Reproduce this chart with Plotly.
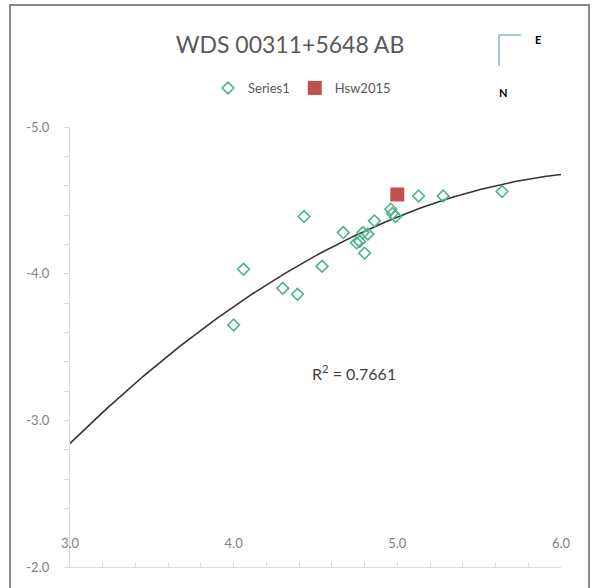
import numpy as np
import plotly.graph_objects as go

# ---- data ----
series1_x = [4.00, 4.06, 4.30, 4.39, 4.43, 4.54, 4.67, 4.75, 4.77, 4.79, 4.82, 4.80, 4.86, 4.96, 4.97, 4.99, 5.13, 5.28, 5.64]
series1_y = [-3.65, -4.03, -3.90, -3.86, -4.39, -4.05, -4.28, -4.21, -4.22, -4.28, -4.27, -4.14, -4.36, -4.44, -4.41, -4.39, -4.53, -4.53, -4.56]
hsw_x = [5.00]
hsw_y = [-4.54]
trend_range = [3.0, 6.0]
x_ticks = [3.0, 4.0, 5.0, 6.0]
x_ticktext = ["3.0", "4.0", "5.0", "6.0"]
y_ticks = [-5.0, -4.0, -3.0, -2.0]
y_ticktext = ["-5.0", "-4.0", "-3.0", "-2.0"]
r2_label = "R<sup>2</sup> = 0.7661"
title_text = "WDS 00311+5648 AB"

# polynomial (order 2) trendline fitted on Series1
coef = np.polyfit(series1_x, series1_y, 2)
tx = np.linspace(trend_range[0], trend_range[1], 200)
ty = np.polyval(coef, tx)

FONT = "Lato, 'Open Sans', sans-serif"
GREEN = "#4cb38a"
RED = "#c0504d"

fig = go.Figure()
fig.add_trace(go.Scatter(x=tx, y=ty, mode="lines", line=dict(color="#333333", width=1.6),
                         showlegend=False, hoverinfo="skip"))
fig.add_trace(go.Scatter(x=series1_x, y=series1_y, mode="markers", name="Series1",
                         marker=dict(symbol="diamond-open", size=9, color=GREEN,
                                     line=dict(width=1.6, color=GREEN))))
fig.add_trace(go.Scatter(x=hsw_x, y=hsw_y, mode="markers", name="Hsw2015",
                         marker=dict(symbol="square", size=14, color=RED)))

L, R, T, B = 70, 34, 127, 21
W, H = 595, 588
pw, ph = W - L - R, H - T - B

def px(xp):
    return (xp - L) / pw

def py(yp):
    return (H - B - yp) / ph

AXC = "#d9d9d9"
TICKC = "#808080"
fig.update_layout(
    xaxis=dict(range=[3.0, 6.0], tickvals=x_ticks, ticktext=x_ticktext, showticklabels=False,
               showgrid=False, zeroline=False, automargin=False,
               showline=True, linecolor=AXC, linewidth=1.3,
               ticks="inside", ticklen=5, tickcolor=AXC,
               minor=dict(ticks="inside", dtick=0.2, ticklen=5, tickcolor=AXC)),
    xaxis2=dict(range=[3.0, 6.0], tickvals=x_ticks, ticktext=x_ticktext, overlaying="x",
                anchor="free", position=py(534), showline=False, ticks="", showgrid=False,
                zeroline=False, automargin=False, side="bottom",
                tickfont=dict(family=FONT, size=13, color=TICKC)),
    yaxis=dict(range=[-2.0, -5.0], tickvals=y_ticks, ticktext=y_ticktext,
               showgrid=False, zeroline=False, automargin=False,
               showline=True, linecolor=AXC, linewidth=1.3,
               ticks="outside", ticklen=5, tickcolor=AXC, ticklabelstandoff=12,
               minor=dict(ticks="outside", dtick=0.2, ticklen=5, tickcolor=AXC),
               tickfont=dict(family=FONT, size=13, color=TICKC)),
)
# invisible helper trace so xaxis2 is drawn
fig.add_trace(go.Scatter(x=[3.0], y=[-5.0], xaxis="x2", yaxis="y", mode="markers",
                         marker=dict(opacity=0), showlegend=False, hoverinfo="skip"))

shapes = [
    dict(type="rect", xref="paper", yref="paper", x0=px(10), x1=px(589), y0=py(592), y1=py(5),
         line=dict(color="#8a8a8a", width=2), fillcolor="rgba(0,0,0,0)", layer="below"),
    dict(type="line", xref="paper", yref="paper", x0=px(499), x1=px(521), y0=py(35), y1=py(35),
         line=dict(color="#7aa6d6", width=1.3)),
    dict(type="line", xref="paper", yref="paper", x0=px(499), x1=px(499), y0=py(35), y1=py(66),
         line=dict(color="#7aa6d6", width=1.3)),
]

annotations = [
    dict(text=r2_label, xref="paper", yref="paper", x=px(354), y=py(372), showarrow=False,
         xanchor="center", yanchor="middle",
         font=dict(family=FONT, size=16, color="#404040")),
    dict(text="<b>E</b>", xref="paper", yref="paper", x=px(538), y=py(40), showarrow=False,
         xanchor="center", yanchor="middle",
         font=dict(family=FONT, size=11, color="#000000")),
    dict(text="<b>N</b>", xref="paper", yref="paper", x=px(503), y=py(93), showarrow=False,
         xanchor="center", yanchor="middle",
         font=dict(family=FONT, size=11, color="#000000")),
]

fig.update_layout(
    width=W, height=H, margin=dict(l=L, r=R, t=T, b=B, autoexpand=False),
    paper_bgcolor="white", plot_bgcolor="white",
    title=dict(text=title_text, x=290 / W, xanchor="center", xref="container",
               y=1 - 45 / H, yanchor="middle", yref="container",
               font=dict(family=FONT, size=23, color="#595959")),
    legend=dict(orientation="h", xref="container", yref="container", x=302 / W, xanchor="center",
                y=1 - 88 / H, yanchor="middle",
                font=dict(family=FONT, size=13, color="#595959"), itemwidth=30,
                bgcolor="rgba(0,0,0,0)"),
    shapes=shapes, annotations=annotations, showlegend=True,
)

fig.write_html("out.html", config={"displayModeBar": False},
               post_script="document.body.style.margin='0';")
